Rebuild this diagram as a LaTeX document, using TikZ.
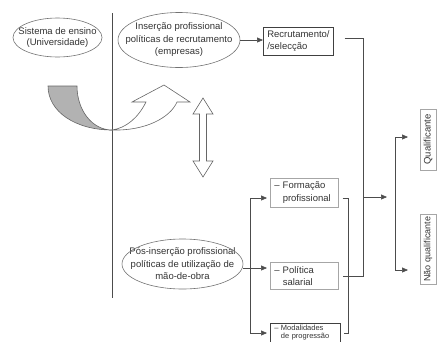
\documentclass[tikz,border=0pt]{standalone}
\usepackage{fontspec}
\setmainfont{Liberation Sans}
\usetikzlibrary{shapes.geometric,arrows.meta,calc}
\begin{document}
\begin{tikzpicture}[x=1pt,y=-1pt,
 txt/.style={font=\fontsize{9.5}{12.5}\selectfont, text=black!80},
 etxt/.style={txt, inner sep=0pt, align=center},
 ellpath/.style={draw=black!55, line width=0.6pt},
 box/.style={draw=black!75, line width=0.6pt, inner xsep=4pt, inner ysep=0pt, txt, align=left},
 lbox/.style={box, draw=black!35},
 ln/.style={draw=black!70, line width=0.6pt},
 arr/.style={ln, -{Triangle[length=6pt,width=5pt]}},
 hollow/.style={draw=black!60, line width=0.6pt, fill=white, line join=miter},
]
\useasboundingbox (0,0) rectangle (437,341);
\clip (0,0) rectangle (437,341);

% divider
\draw[ln] (112,13) -- (112,298);

% ellipses (text nodes + outlines)
\node[etxt, font=\fontsize{9.5}{11.5}\selectfont] (e1) at (57.5,37.5) {Sistema de ensino\\(Universidade)};
\draw[ellpath] (e1.center) ellipse [x radius=44.5, y radius=19.5];
\node[etxt] (e2) at (179,40) {Inserção profissional\\políticas de recrutamento\\(empresas)};
\draw[ellpath] (e2.center) ellipse [x radius=61, y radius=27.5];
\node[etxt] (e3) at (182.5,264) {Pós-inserção profissional\\políticas de utilização de\\mão-de-obra};
\draw[ellpath] (e3.center) ellipse [x radius=60.5, y radius=25];

% boxes
\node[box, anchor=north west, minimum width=69, minimum height=28, text width=62] (rec) at (263,27) {Recrutamento/\\/selecção};
\node[lbox, anchor=north west, minimum width=68, minimum height=29, text width=60] (form) at (270,178) {– Formação\\\phantom{– }profissional};
\node[lbox, anchor=north west, minimum width=68, minimum height=27, text width=60] (pol) at (270,262) {– Política\\\phantom{– }salarial};
\node[box, anchor=north west, minimum width=69, text width=62, font=\fontsize{7.5}{8}\selectfont, inner ysep=2pt] (mod) at (270,323) {– Modalidades\\\phantom{– }de progressão\\[3pt]};
\node[lbox, rotate=90, minimum width=61, minimum height=16, inner xsep=1pt, align=center, text width=59] (qual) at (428,139.5) {Qualificante};
\node[lbox, rotate=90, minimum width=70, minimum height=16, inner xsep=1pt, align=center, text width=68, font=\fontsize{9}{10}\selectfont] (nqual) at (428,249) {Não qualificante};

% arrow ellipse 2 -> recrutamento
\coordinate (a0) at (240,40);
\draw[arr] (a0) -- (a0 -| rec.west);

% right joining line
\coordinate (j1) at (363,38);
\coordinate (j2) at (363,276);
\coordinate (j3) at (363,197);
\coordinate (t3) at (387,197);
\draw[ln] ($(rec.east |- j1)+(11,0)$) -- (j1) -- (j2) -- ($(pol.east |- j2)+(4,0)$);
\draw[arr] (j3) -- (t3);

% bracket formacao/modalidades
\coordinate (f1) at (348,198);
\coordinate (f2) at (348,333);
\draw[ln] ($(form.east |- f1)+(4,0)$) -- (f1) -- (f2) -- ($(mod.east |- f2)+(3,0)$);

% final bracket
\coordinate (b1) at (395,137);
\coordinate (b2) at (395,270);
\coordinate (q1) at (408,137);
\coordinate (q2) at (408,270);
\draw[ln] (b1) -- (b2);
\draw[arr] (b1) -- (q1);
\draw[arr] (b2) -- (q2);

% left bracket from e3
\coordinate (l1) at (250,198);
\coordinate (l2) at (250,333);
\coordinate (l3) at (243,268);
\draw[ln] (l1) -- (l2);
\draw[arr] (l1) -- ($(form.west |- l1)+(-3,0)$);
\draw[arr] (l2) -- ($(mod.west |- l2)+(-3,0)$);
\draw[arr] (l3) -- ($(pol.west |- l3)+(-3,0)$);

% double hollow arrow
\draw[hollow] (203,98) -- (213,114) -- (206.5,114) -- (206.5,161) -- (213,161) -- (203,177)
  -- (193,161) -- (199.5,161) -- (199.5,114) -- (193,114) -- cycle;

% curved arrow: grey part
\draw[draw=black!60, line width=0.6pt, fill=black!30]
  (48,86) -- (77,86) .. controls (77,110) and (92,130) .. (112,130)
  .. controls (76,130) and (48,112) .. (48,86) -- cycle;
% white hollow part
\draw[hollow]
  (112,130) .. controls (145,131) and (170,118) .. (177,102)
  -- (190,102) -- (164,85) -- (132,102) -- (146,102)
  .. controls (138,118) and (126,128) .. (112,130) -- cycle;
\end{tikzpicture}
\end{document}
